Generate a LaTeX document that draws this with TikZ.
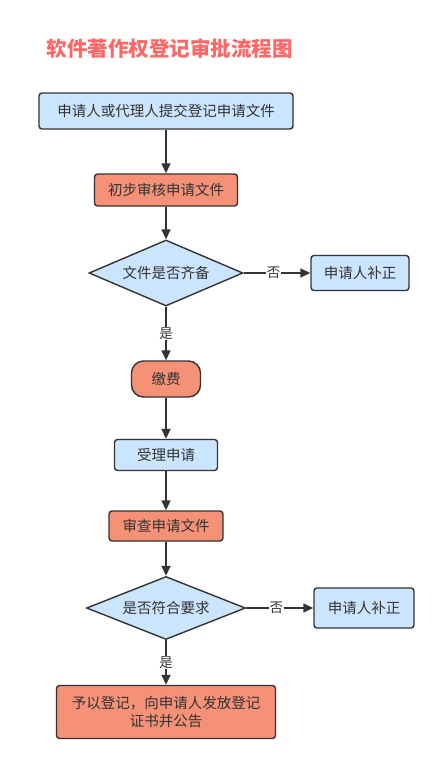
\documentclass[tikz,border=0pt]{standalone}
\usepackage{fontspec}
\setmainfont{Noto Sans CJK SC}
\usetikzlibrary{shapes.geometric,arrows.meta}
\definecolor{bluefill}{HTML}{CCE5FF}
\definecolor{redfill}{HTML}{F49177}
\definecolor{edge}{HTML}{333333}
\definecolor{titlered}{HTML}{FF6666}
\begin{document}
\begin{tikzpicture}[x=1pt,y=-1pt,
  box/.style={draw=edge,line width=1.4pt,rounded corners=3pt,font=\fontsize{14.5}{18}\selectfont,text=edge,inner sep=0pt,align=center},
  bbox/.style={box,fill=bluefill},
  rbox/.style={box,fill=redfill},
  dia/.style={draw=edge,line width=1.4pt,fill=bluefill,diamond,aspect=2.33,inner sep=0pt,font=\fontsize{14.5}{18}\selectfont,text=edge},
  arr/.style={draw=edge,line width=1.6pt,-{Triangle[length=10pt,width=9pt]}},
  lab/.style={fill=white,inner sep=1pt,font=\fontsize{13.5}{15}\selectfont,text=edge}]
\useasboundingbox (0,0) rectangle (439,763);
\node[font=\fontsize{20.5}{23}\selectfont\bfseries,text=titlered,anchor=west] (title) at (43,49) {软件著作权登记审批流程图};
\node[bbox,minimum width=254pt,minimum height=36pt] (n1) at (166,111) {申请人或代理人提交登记申请文件};
\node[rbox,minimum width=143pt,minimum height=32pt] (n2) at (166,190) {初步审核申请文件};
\node[dia,minimum width=154pt,minimum height=66pt] (d1) at (166,273) {文件是否齐备};
\node[bbox,minimum width=98pt,minimum height=35pt] (r1) at (360,273) {申请人补正};
\node[rbox,rounded corners=12pt,minimum width=69pt,minimum height=36pt] (n3) at (166,379) {缴费};
\node[bbox,minimum width=103pt,minimum height=31pt] (n4) at (166,455) {受理申请};
\node[rbox,minimum width=114pt,minimum height=30pt] (n5) at (166,526) {审查申请文件};
\node[dia,minimum width=159pt,minimum height=63pt,aspect=2.5] (d2) at (166,608) {是否符合要求};
\node[bbox,minimum width=100pt,minimum height=40pt] (r2) at (364,608) {申请人补正};
\node[rbox,minimum width=219pt,minimum height=53pt] (n6) at (166,712) {予以登记，向申请人发放登记\\证书并公告};
\draw[arr] (n1) -- (n2);
\draw[arr] (n2) -- (d1);
\draw[arr] (d1) -- node[lab] (y1) {是} (n3);
\draw[arr] (d1) -- node[lab,pos=0.45] (no1) {否} (r1);
\draw[arr] (n3) -- (n4);
\draw[arr] (n4) -- (n5);
\draw[arr] (n5) -- (d2);
\draw[arr] (d2) -- node[lab,pos=0.45] (no2) {否} (r2);
\draw[arr] (d2) -- node[lab] (y2) {是} (n6);
\end{tikzpicture}
\end{document}
